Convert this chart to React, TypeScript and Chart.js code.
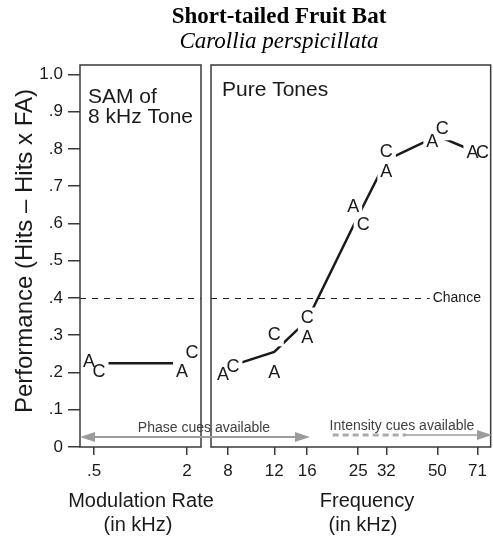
import React, { useEffect, useRef } from "react";
import { Chart, registerables } from "chart.js";

Chart.register(...registerables);

const W = 493;
const H = 537;

// ---- texts ----
const titleMain = "Short-tailed Fruit Bat";
const titleSpecies = "Carollia perspicillata";
const yAxisTitle = "Performance (Hits \u2013 Hits x FA)";
const samAxisTitle = ["Modulation Rate", "(in kHz)"];
const toneAxisTitle = ["Frequency", "(in kHz)"];
const samPanelLabel = ["SAM of", "8 kHz Tone"];
const tonePanelLabel = ["Pure Tones"];
const chanceLabel = "Chance";
const phaseCueLabel = "Phase cues available";
const intensityCueLabel = "Intensity cues available";

// ---- y axis ----
const yTickValues = [0, 0.1, 0.2, 0.3, 0.4, 0.5, 0.6, 0.7, 0.8, 0.9, 1.0];
const yTickLabels = ["0", ".1", ".2", ".3", ".4", ".5", ".6", ".7", ".8", ".9", "1.0"];

// ---- SAM panel (modulation rate, kHz) ----
const samRates = [0.5, 2];
const samRateLabels = [".5", "2"];
const samBatA = [0.229, 0.202];
const samBatC = [0.202, 0.252];
const samMean = [0.225, 0.225];

// ---- Pure tone panel (frequency, kHz) ----
const toneFreqs = [8, 12, 16, 25, 32, 50, 71];
const toneFreqLabels = ["8", "12", "16", "25", "32", "50", "71"];
const toneBatA = [0.193, 0.198, 0.292, 0.643, 0.739, 0.82, 0.79];
const toneBatC = [0.215, 0.3, 0.345, 0.596, 0.793, 0.853, 0.79];
const toneMean = [0.215, 0.255, 0.34, 0.62, 0.77, 0.835, 0.79];

const chanceLevel = 0.4;
const phaseCueEndKHz = 16.4;
const intensityDashFromKHz = 20;
const intensitySolidFromKHz = 38;

// ---- styles ----
const SANS = '"Liberation Sans", Arial, Helvetica, sans-serif';
const SERIF = '"Liberation Serif", "Times New Roman", Times, serif';
const INK = "#1a1a1a";
const FRAME = "#3a3a3a";
const CUE_GRAY = "#9c9c9c";
const CUE_TEXT = "#404040";

function pts(xs: number[], ys: number[]) {
  return xs.map((x, i) => ({ x, y: ys[i] }));
}

function nudges(a: number[], b: number[], dir: number) {
  return a.map((v, i) => (Math.abs(v - b[i]) < 0.052 ? dir * 5 : 0));
}

function buildDatasets(xs: number[], mean: number[], a: number[], c: number[]) {
  return [
    {
      data: pts(xs, mean),
      showLine: true,
      borderColor: INK,
      borderWidth: 2.5,
      pointRadius: 0,
    },
    { data: pts(xs, a), letter: "A", nudge: nudges(a, c, -1), showLine: false, pointRadius: 0 },
    { data: pts(xs, c), letter: "C", nudge: nudges(c, a, 1), showLine: false, pointRadius: 0 },
  ] as any[];
}

function drawText(
  ctx: CanvasRenderingContext2D,
  s: string,
  x: number,
  y: number,
  font: string,
  color: string,
  align: CanvasTextAlign = "center",
  baseline: CanvasTextBaseline = "alphabetic"
) {
  ctx.save();
  ctx.font = font;
  ctx.fillStyle = color;
  ctx.textAlign = align;
  ctx.textBaseline = baseline;
  ctx.fillText(s, x, y);
  ctx.restore();
}

const letterPlugin = {
  id: "letterMarks",
  afterDatasetsDraw(chart: any) {
    const ctx = chart.ctx as CanvasRenderingContext2D;
    const items: [string, number, number][] = [];
    chart.data.datasets.forEach((ds: any, i: number) => {
      if (!ds.letter) return;
      chart.getDatasetMeta(i).data.forEach((el: any, j: number) => {
        items.push([ds.letter, el.x + ds.nudge[j], el.y]);
      });
    });
    ctx.save();
    ctx.font = `18px ${SANS}`;
    ctx.textAlign = "center";
    ctx.textBaseline = "middle";
    // white knock-out box behind each letter so the mean line stops short of it
    ctx.fillStyle = "#ffffff";
    items.forEach(([t, x, y]) => {
      const w = ctx.measureText(t).width;
      ctx.fillRect(x - w / 2 - 3, y - 11, w + 6, 22);
    });
    ctx.fillStyle = INK;
    items.forEach(([t, x, y]) => ctx.fillText(t, x, y));
    ctx.restore();
  },
};

function drawFrame(chart: any) {
  const { ctx, chartArea: a } = chart;
  ctx.save();
  ctx.strokeStyle = FRAME;
  ctx.lineWidth = 1.5;
  ctx.strokeRect(a.left, a.top, a.right - a.left, a.bottom - a.top);
  ctx.restore();
}

function drawChance(chart: any, endX: number) {
  const { ctx, chartArea: a } = chart;
  const y = Math.round(chart.scales.y.getPixelForValue(chanceLevel)) + 0.5;
  ctx.save();
  ctx.strokeStyle = "#222";
  ctx.lineWidth = 1;
  ctx.setLineDash([6, 6]);
  ctx.beginPath();
  ctx.moveTo(a.left, y);
  ctx.lineTo(endX, y);
  ctx.stroke();
  ctx.restore();
  return y;
}

function arrowHead(ctx: CanvasRenderingContext2D, tipX: number, y: number, dir: number) {
  ctx.beginPath();
  ctx.moveTo(tipX, y);
  ctx.lineTo(tipX - dir * 15, y - 5);
  ctx.lineTo(tipX - dir * 15, y + 5);
  ctx.closePath();
  ctx.fill();
}

function xScaleCfg(extra: any, values: number[], labels: string[]) {
  return {
    ...extra,
    afterBuildTicks: (s: any) => {
      s.ticks = values.map((v) => ({ value: v }));
    },
    afterFit: (s: any) => {
      s.height = 90;
    },
    ticks: {
      callback: (_v: any, i: number) => labels[i],
      font: { family: SANS, size: 17 },
      color: INK,
      padding: 6,
      autoSkip: false,
      maxRotation: 0,
    },
    grid: { drawOnChartArea: false, drawTicks: true, tickLength: 8, color: FRAME, lineWidth: 1.5 },
    border: { display: false },
  };
}

function yScaleCfg(visible: boolean) {
  return {
    display: visible,
    min: 0,
    max: 1.0255,
    afterBuildTicks: (s: any) => {
      s.ticks = yTickValues.map((v) => ({ value: v }));
    },
    afterFit: (s: any) => {
      s.width = visible ? 80 : 0;
    },
    ticks: {
      callback: (_v: any, i: number) => yTickLabels[i],
      font: { family: SANS, size: 17 },
      color: INK,
      padding: 5,
      autoSkip: false,
    },
    grid: { drawOnChartArea: false, drawTicks: true, tickLength: 12, color: FRAME, lineWidth: 1.5 },
    border: { display: false },
  };
}

const baseOptions = {
  responsive: false,
  animation: false,
  events: [],
  plugins: { legend: { display: false }, tooltip: { enabled: false }, title: { display: false } },
};

export default function App() {
  const leftRef = useRef<HTMLCanvasElement>(null);
  const rightRef = useRef<HTMLCanvasElement>(null);

  useEffect(() => {
    if (!leftRef.current || !rightRef.current) return;

    const leftDecor = {
      id: "leftDecor",
      beforeDatasetsDraw(chart: any) {
        drawChance(chart, chart.chartArea.right);
      },
      afterDraw(chart: any) {
        const { ctx, chartArea: a } = chart;
        drawFrame(chart);
        // y axis title (rotated)
        ctx.save();
        ctx.translate(32, (a.top + a.bottom) / 2 - 5);
        ctx.rotate(-Math.PI / 2);
        drawText(ctx, yAxisTitle, 0, 0, `24px ${SANS}`, INK);
        ctx.restore();
        // x axis title
        drawText(ctx, samAxisTitle[0], 141, 507, `20px ${SANS}`, INK);
        drawText(ctx, samAxisTitle[1], 138, 531, `20px ${SANS}`, INK);
        // panel label
        drawText(ctx, samPanelLabel[0], a.left + 8, 103, `21px ${SANS}`, INK, "left");
        drawText(ctx, samPanelLabel[1], a.left + 8, 123, `21px ${SANS}`, INK, "left");
      },
    };

    const left = new Chart(leftRef.current, {
      type: "scatter",
      data: { datasets: buildDatasets(samRates, samMean, samBatA, samBatC) },
      options: {
        ...baseOptions,
        layout: { padding: { left: 0, top: 65, right: W - 201, bottom: 0 } },
        scales: {
          x: xScaleCfg({ type: "linear", min: 0.274, max: 2.226 }, samRates, samRateLabels),
          y: yScaleCfg(true),
        },
      } as any,
      plugins: [leftDecor, letterPlugin],
    });

    const rightDecor = {
      id: "rightDecor",
      beforeDatasetsDraw(chart: any) {
        const a = chart.chartArea;
        const y = drawChance(chart, a.right - 61);
        drawText(chart.ctx, chanceLabel, a.right - 58, y, `14px ${SANS}`, INK, "left", "middle");
      },
      afterDraw(chart: any) {
        const { ctx, chartArea: a } = chart;
        const xs = chart.scales.x;
        drawFrame(chart);
        // title
        drawText(ctx, titleMain, 279, 23, `bold 23px ${SERIF}`, "#000");
        drawText(ctx, titleSpecies, 279, 48, `italic 23px ${SERIF}`, "#000");
        // x axis title
        drawText(ctx, toneAxisTitle[0], 367, 507, `20px ${SANS}`, INK);
        drawText(ctx, toneAxisTitle[1], 363, 531, `20px ${SANS}`, INK);
        // panel label
        drawText(ctx, tonePanelLabel[0], a.left + 11, 96, `21px ${SANS}`, INK, "left");

        // phase cue arrow (spans both panels)
        ctx.save();
        ctx.strokeStyle = CUE_GRAY;
        ctx.fillStyle = CUE_GRAY;
        const py = a.bottom - 10;
        const pl = left.chartArea.left;
        const pr = xs.getPixelForValue(phaseCueEndKHz);
        ctx.lineWidth = 2;
        ctx.beginPath();
        ctx.moveTo(pl + 12, py);
        ctx.lineTo(pr - 12, py);
        ctx.stroke();
        arrowHead(ctx, pl, py, -1);
        arrowHead(ctx, pr, py, 1);

        // intensity cue arrow
        const iy = a.bottom - 12;
        const d0 = xs.getPixelForValue(intensityDashFromKHz);
        const d1 = xs.getPixelForValue(intensitySolidFromKHz);
        const tip = W - 1;
        ctx.lineWidth = 3;
        ctx.strokeStyle = "#aaaaaa";
        ctx.setLineDash([6, 4]);
        ctx.beginPath();
        ctx.moveTo(d0, iy);
        ctx.lineTo(d1, iy);
        ctx.stroke();
        ctx.setLineDash([]);
        ctx.lineWidth = 1.5;
        ctx.strokeStyle = CUE_GRAY;
        ctx.beginPath();
        ctx.moveTo(d1, iy);
        ctx.lineTo(tip - 12, iy);
        ctx.stroke();
        arrowHead(ctx, tip, iy, 1);
        ctx.restore();

        drawText(ctx, phaseCueLabel, 204, py - 5, `14px ${SANS}`, CUE_TEXT);
        drawText(ctx, intensityCueLabel, 402, iy - 5, `14px ${SANS}`, CUE_TEXT);
      },
    };

    const right = new Chart(rightRef.current, {
      type: "scatter",
      data: { datasets: buildDatasets(toneFreqs, toneMean, toneBatA, toneBatC) },
      options: {
        ...baseOptions,
        layout: { padding: { left: 211, top: 65, right: 2, bottom: 0 } },
        scales: {
          x: xScaleCfg({ type: "logarithmic", min: 6.9, max: 79.7 }, toneFreqs, toneFreqLabels),
          y: yScaleCfg(false),
        },
      } as any,
      plugins: [rightDecor, letterPlugin],
    });

    return () => {
      right.destroy();
      left.destroy();
    };
  }, []);

  return (
    <div style={{ position: "absolute", left: 0, top: 0, width: W, height: H, background: "#fff" }}>
      <canvas ref={leftRef} width={W} height={H} style={{ position: "absolute", left: 0, top: 0 }} />
      <canvas ref={rightRef} width={W} height={H} style={{ position: "absolute", left: 0, top: 0 }} />
    </div>
  );
}
